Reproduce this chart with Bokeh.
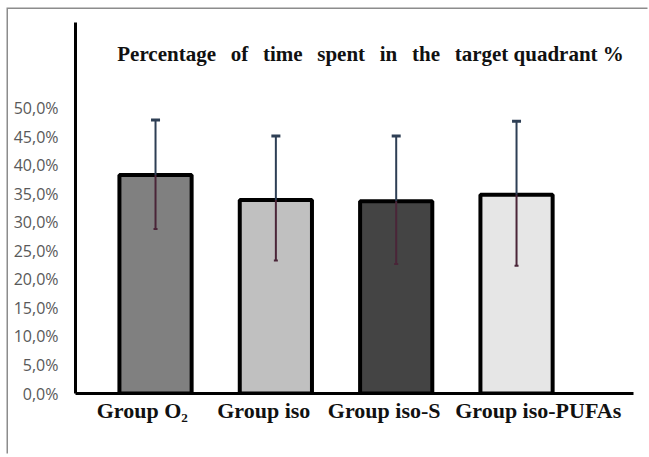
from bokeh.plotting import figure
from bokeh.models import Range1d, FixedTicker, Label
from bokeh.embed import file_html
from bokeh.resources import INLINE

groups = ["Group O\u2082", "Group iso", "Group iso-S", "Group iso-PUFAs"]
means = [38.3, 33.9, 33.7, 34.8]
err_upper = [47.9, 45.1, 45.1, 47.7]
err_lower = [28.8, 23.3, 22.7, 22.4]
bar_colors = ["#808080", "#c0c0c0", "#444444", "#e6e6e6"]
y_ticks = [0, 5, 10, 15, 20, 25, 30, 35, 40, 45, 50]
y_tick_labels = ["0,0%", "5,0%", "10,0%", "15,0%", "20,0%", "25,0%", "30,0%",
                 "35,0%", "40,0%", "45,0%", "50,0%"]
title_words = ["Percentage", "of", "time", "spent", "in", "the", "target", "quadrant %"]

xs = [i + 1 for i in range(len(groups))]
# category labels are set slightly off the bar centres, as in the original
label_shift = [-0.11, -0.10, -0.10, 0.18]
label_pos = [x + s for x, s in zip(xs, label_shift)]

p = figure(width=641, height=446, output_backend="svg", toolbar_location=None,
           x_range=Range1d(0.335, 4.972), y_range=Range1d(0, 65),
           min_border_left=67, min_border_right=16, min_border_top=13,
           min_border_bottom=62)
p.styles = {"margin-left": "8px", "margin-top": "9px",
            "box-shadow": "-1.5px -1.5px 0 0 #8c8c8c"}
p.outline_line_color = None
p.grid.visible = False
p.background_fill_color = "white"
p.border_fill_color = "white"

p.vbar(x=xs, top=means, bottom=0, width=0.6, fill_color=bar_colors,
       line_color="black", line_width=4)

# error bars
p.segment(x0=xs, y0=means, x1=xs, y1=err_upper, line_color="#2e3f55", line_width=2)
p.segment(x0=xs, y0=err_lower, x1=xs, y1=means, line_color="#4a2538", line_width=2)
p.scatter(x=xs, y=err_upper, marker="dash", size=9, line_color="#2e3f55", line_width=3)
p.scatter(x=xs, y=err_lower, marker="dash", size=4, line_color="#4a2538", line_width=2)

# y axis
ya = p.yaxis[0]
ya.ticker = FixedTicker(ticks=y_ticks)
ya.major_label_overrides = {t: l for t, l in zip(y_ticks, y_tick_labels)}
ya.axis_line_width = 3
ya.axis_line_color = "black"
ya.major_tick_line_color = None
ya.minor_tick_line_color = None
ya.major_label_text_font = "Open Sans"
ya.major_label_text_font_size = "16px"
ya.major_label_text_color = "#595959"
ya.major_label_standoff = 11

# x axis
xa = p.xaxis[0]
xa.ticker = FixedTicker(ticks=label_pos)
xa.major_label_overrides = {x: g for x, g in zip(label_pos, groups)}
xa.axis_line_width = 3
xa.axis_line_color = "black"
xa.major_tick_line_color = None
xa.minor_tick_line_color = None
xa.major_label_text_font = "Liberation Serif"
xa.major_label_text_font_style = "bold"
xa.major_label_text_font_size = "22px"
xa.major_label_text_color = "#111111"
xa.major_label_standoff = -2

title = Label(x=2.787, y=59.5, text="\u2002\u2009".join(title_words[:-1]) + " " + title_words[-1],
              text_align="center",
              text_baseline="middle", text_font="Liberation Serif",
              text_font_style="bold", text_font_size="21px", text_color="#111111")
p.add_layout(title)

open("out.html", "w").write(file_html(p, INLINE))
